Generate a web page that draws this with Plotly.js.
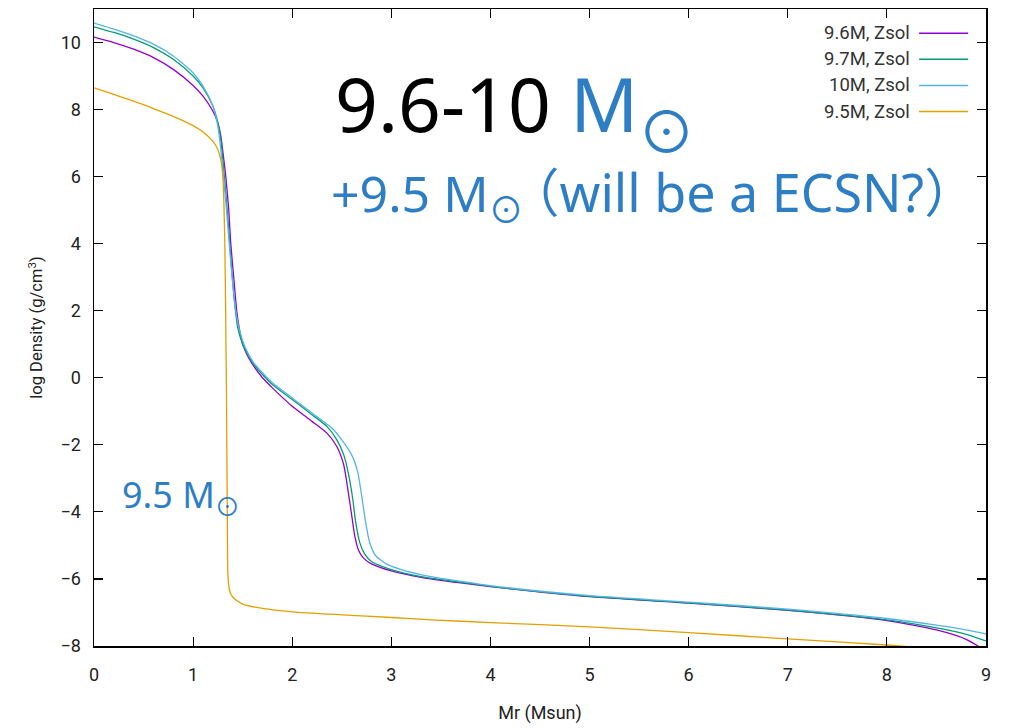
<!DOCTYPE html>
<html>
<head>
<meta charset="utf-8">
<script src="https://cdn.plot.ly/plotly-3.0.1.min.js"></script>
<style>html,body{margin:0;padding:0;background:#fff;}#chart{width:1009px;height:728px;}</style>
</head>
<body>
<div id="chart"></div>
<script>
// ---- data ----
var seriesNames = ["9.6M, Zsol", "9.7M, Zsol", "10M, Zsol", "9.5M, Zsol"];

var x96 = [0, 0.2, 0.4, 0.6, 0.8, 1.0, 1.1, 1.2, 1.25, 1.28, 1.31, 1.33, 1.36, 1.38, 1.41, 1.44, 1.47, 1.5, 1.55, 1.6, 1.7, 1.8, 2.0, 2.2, 2.35, 2.45, 2.52, 2.56, 2.6, 2.63, 2.67, 2.72, 2.8, 3.0, 3.3, 3.7, 4, 5, 6, 7, 8, 8.5, 8.8, 9];
var y96 = [10.16, 10.0, 9.8, 9.55, 9.2, 8.72, 8.4, 7.95, 7.6, 7.2, 6.5, 6.0, 5.0, 4.0, 3.0, 2.0, 1.4, 1.0, 0.65, 0.4, 0.0, -0.3, -0.85, -1.3, -1.65, -2.05, -2.6, -3.3, -4.1, -4.7, -5.15, -5.38, -5.55, -5.76, -5.95, -6.12, -6.23, -6.53, -6.72, -6.94, -7.24, -7.52, -7.8, -8.15];

var x97 = [0, 0.2, 0.4, 0.6, 0.8, 1.0, 1.1, 1.2, 1.25, 1.28, 1.3, 1.33, 1.36, 1.39, 1.42, 1.45, 1.5, 1.55, 1.6, 1.7, 1.8, 2.0, 2.2, 2.35, 2.45, 2.52, 2.57, 2.61, 2.64, 2.68, 2.73, 2.8, 3.0, 3.3, 3.7, 4, 5, 6, 7, 8, 8.5, 8.8, 9];
var y97 = [10.47, 10.3, 10.1, 9.85, 9.5, 9.0, 8.65, 8.1, 7.6, 7.1, 6.5, 5.5, 4.4, 3.2, 2.2, 1.5, 1.0, 0.7, 0.45, 0.1, -0.2, -0.65, -1.1, -1.45, -1.85, -2.3, -2.9, -3.6, -4.3, -4.9, -5.25, -5.48, -5.72, -5.93, -6.1, -6.22, -6.52, -6.71, -6.93, -7.22, -7.46, -7.65, -7.85];

var x10 = [0, 0.2, 0.4, 0.6, 0.8, 1.0, 1.1, 1.2, 1.25, 1.28, 1.31, 1.34, 1.37, 1.4, 1.43, 1.47, 1.52, 1.6, 1.7, 1.8, 2.0, 2.2, 2.4, 2.5, 2.6, 2.66, 2.7, 2.74, 2.78, 2.84, 2.95, 3.1, 3.4, 3.7, 4, 5, 6, 7, 8, 8.5, 8.8, 9];
var y10 = [10.58, 10.4, 10.2, 9.95, 9.6, 9.1, 8.7, 8.1, 7.5, 6.8, 5.9, 4.9, 3.8, 2.8, 2.0, 1.4, 0.95, 0.5, 0.15, -0.15, -0.6, -1.05, -1.5, -1.85, -2.3, -2.8, -3.5, -4.3, -4.9, -5.3, -5.55, -5.72, -5.93, -6.07, -6.2, -6.5, -6.69, -6.9, -7.18, -7.38, -7.52, -7.64];

var x95 = [0, 0.2, 0.4, 0.6, 0.8, 1.0, 1.1, 1.2, 1.25, 1.28, 1.3, 1.32, 1.335, 1.345, 1.35, 1.36, 1.38, 1.42, 1.5, 1.7, 2.0, 2.5, 3, 3.4, 4, 5, 6, 7, 8, 9];
var y95 = [8.65, 8.45, 8.25, 8.03, 7.8, 7.52, 7.33, 7.05, 6.8, 6.5, 6.0, 4.0, 0, -4, -5.8, -6.2, -6.45, -6.6, -6.75, -6.88, -6.98, -7.07, -7.15, -7.22, -7.3, -7.43, -7.6, -7.79, -7.97, -8.2];

var seriesX = [x96, x97, x10, x95];
var seriesY = [y96, y97, y10, y95];
var seriesColors = ["#9400d3", "#009e73", "#56b4e9", "#e69f00"];

var xTickVals = [0, 1, 2, 3, 4, 5, 6, 7, 8, 9];
var yTickVals = [-8, -6, -4, -2, 0, 2, 4, 6, 8, 10];

var BLUE = "#2e7ec6";

// ---- traces ----
var traces = seriesNames.map(function (n, i) {
  return {
    x: seriesX[i], y: seriesY[i], name: n, type: "scatter", mode: "lines",
    line: {color: seriesColors[i], width: 1.3, shape: "spline", smoothing: 0.6},
    showlegend: false, hoverinfo: "skip"
  };
});

// ---- hand-built legend (text left of line sample, as in gnuplot) ----
var legendTop = 0.962, legendStep = 0.041;
var annotations = [];
var shapes = [];
seriesNames.forEach(function (n, i) {
  var yy = legendTop - i * legendStep;
  annotations.push({
    xref: "paper", yref: "paper", x: 0.917, y: yy, xanchor: "right", yanchor: "middle",
    text: n, showarrow: false, font: {family: "Roboto, sans-serif", size: 18.5, color: "#333"}
  });
  shapes.push({
    type: "line", xref: "paper", yref: "paper", x0: 0.925, x1: 0.980, y0: yy, y1: yy,
    line: {color: seriesColors[i], width: 1.5}
  });
});

var TF = "'Noto Sans', 'Noto Sans CJK JP', 'DejaVu Sans', sans-serif";
annotations.push({
  xref: "paper", yref: "paper", x: 0.268, y: 0.852, xanchor: "left", yanchor: "middle",
  text: "9.6-10 <span style='color:" + BLUE + "'>M</span>",
  showarrow: false, font: {family: TF, size: 75, color: "#000"}
});
annotations.push({
  xref: "paper", yref: "paper", x: 0.642, y: 0.809, xanchor: "center", yanchor: "middle",
  height: 46, borderpad: 0,
  text: "⊙", showarrow: false, font: {family: TF, size: 57, color: BLUE}
});
annotations.push({
  xref: "paper", yref: "paper", x: 0.264, y: 0.709, xanchor: "left", yanchor: "middle",
  text: "+9.5 M<sub><span style='letter-spacing:-16px'>⊙</span></sub><span style='font-size:52px'>（will be a ECSN?）</span>",
  showarrow: false, font: {family: TF, size: 50, color: BLUE}
});
annotations.push({
  xref: "paper", yref: "paper", x: 0.029, y: 0.235, xanchor: "left", yanchor: "middle",
  text: "9.5 M<sub>⊙</sub>",
  showarrow: false, font: {family: TF, size: 36, color: BLUE}
});

var axisCommon = {
  showline: true, linecolor: "#000", linewidth: 1.5, mirror: "ticks",
  ticks: "inside", ticklen: 9, tickwidth: 1.2, tickcolor: "#000",
  showgrid: false, zeroline: false,
  tickfont: {family: "Roboto, sans-serif", size: 18, color: "#222"}
};

var layout = {
  width: 1009, height: 728,
  margin: {l: 94, r: 23, t: 9, b: 82},
  paper_bgcolor: "#fff", plot_bgcolor: "#fff",
  showlegend: false,
  xaxis: Object.assign({}, axisCommon, {
    range: [0, 9], tickvals: xTickVals, ticklabelstandoff: 12,
    title: {text: "Mr (Msun)", font: {family: "Roboto, sans-serif", size: 18, color: "#222"}, standoff: 22}
  }),
  yaxis: Object.assign({}, axisCommon, {
    range: [-8, 11], tickvals: yTickVals, ticklabelstandoff: 8,
    title: {text: "log Density (g/cm<sup>3</sup>)", font: {family: "Roboto, sans-serif", size: 16.5, color: "#222"}, standoff: 13}
  }),
  annotations: annotations,
  shapes: shapes
};

Plotly.newPlot("chart", traces, layout, {displayModeBar: false, staticPlot: true});
</script>
</body>
</html>
